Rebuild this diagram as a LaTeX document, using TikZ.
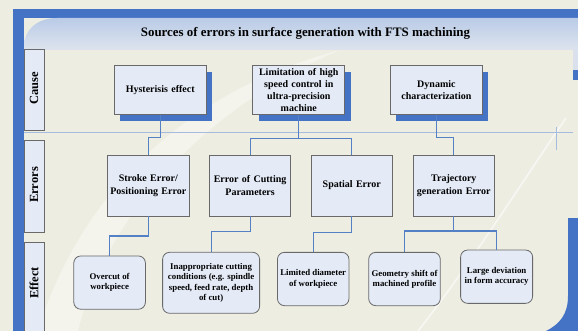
\documentclass[tikz,border=0pt]{standalone}
\usepackage{fontspec}
\setmainfont{Liberation Serif}
\usetikzlibrary{shadows}
\definecolor{frameblue}{RGB}{68,114,196}
\definecolor{cream}{RGB}{237,237,226}
\definecolor{boxfill}{RGB}{228,235,247}
\definecolor{boxline}{RGB}{105,105,105}
\definecolor{connblue}{RGB}{84,128,198}
\definecolor{rulecol}{RGB}{165,188,222}
\definecolor{headtop}{RGB}{186,203,231}
\definecolor{headbot}{RGB}{221,228,238}
\definecolor{sidestrip}{RGB}{218,225,236}
\begin{document}
\begin{tikzpicture}[x=1pt,y=-1pt,
  causebox/.style={draw=boxline, line width=0.8pt, fill=boxfill,
    minimum width=92pt, minimum height=49pt, text width=88pt, inner sep=0pt,
    align=center, font=\fontsize{10}{12}\selectfont\bfseries,
    drop shadow={shadow xshift=6pt, shadow yshift=-6pt, fill=frameblue, opacity=1}},
  errbox/.style={draw=boxline, line width=0.8pt, fill=boxfill,
    minimum width=81.5pt, minimum height=61pt, text width=80pt, inner sep=0pt,
    align=center, font=\fontsize{10}{12.3}\selectfont\bfseries},
  effbox/.style={draw=boxline, line width=0.8pt, fill=boxfill, rounded corners=7pt,
    minimum height=53.3pt, inner sep=0pt,
    align=center, font=\fontsize{8.8}{10.3}\selectfont\bfseries},
  sidebox/.style={draw=boxline, line width=0.7pt, fill=boxfill, rotate=90,
    minimum height=20pt, inner sep=0pt},
  sidetext/.style={rotate=90, inner sep=0pt, font=\fontsize{12.5}{14}\selectfont\bfseries},
  conn/.style={draw=connblue, line width=1.2pt},
  rule/.style={draw=rulecol, line width=0.9pt}]

\useasboundingbox (0,0) rectangle (578,331);
\clip (0,0) rectangle (578,331);

% page ground and panel
\fill[cream] (0,0) rectangle (578,331);

% faint light swoosh across the panel
\fill[white, opacity=0.4] (38,331) .. controls (75,210) and (170,95) .. (340,50)
  .. controls (200,110) and (105,220) .. (78,331) -- cycle;
\draw[white, opacity=0.6, line width=1.6pt] (418,331) .. controls (470,265) and (520,185) .. (566,118);

% blue frame: top band and left strip
\fill[frameblue] (13,9) rectangle (578,18);
\fill[frameblue] (13,9) rectangle (24,331);

% header band with rounded upper-left corner
\shade[top color=headtop, bottom color=headbot]
  (24,50) -- (24,47) .. controls (24,29) and (38,18) .. (57,18) -- (578,18) -- (578,50) -- cycle;

% right-hand edge pieces
\fill[sidestrip] (573,50) rectangle (578,70);
\fill[frameblue] (573,70) rectangle (578,80);
\fill[frameblue] (568,218) -- (578,218) -- (578,331) -- (546,331)
  .. controls (560,324) and (568,314) .. (568,296) -- cycle;

% row divider
\draw[rule] (24,132.3) -- (573,132.3);
\draw[rule] (556,127) -- (556,150);

% title
\node[font=\fontsize{12.9}{15}\selectfont\bfseries] (title) at (305.5,33)
  {Sources of errors in surface generation with FTS machining};

% row labels
\node[sidebox, minimum width=80.5pt] (causebox) at (34,89.8) {};
\node[sidetext] (causetxt) at (34,88.5) {Cause};
\node[sidebox, minimum width=92pt] (errbox) at (34,186) {};
\node[sidetext] (errtxt) at (34,185) {Errors};
\node[sidebox, minimum width=100pt] (effbox) at (34,292) {};
\node[sidetext] (efftxt) at (34,283) {Effect};

% causes
\node[causebox] (hys) at (160.2,90.2) {Hysterisis effect};
\node[causebox] (lim) at (298.8,90.2) {Limitation of high\\speed control in\\ultra-precision\\machine};
\node[causebox] (dyn) at (436.4,90.2) {Dynamic\\characterization};

% errors
\node[errbox] (str) at (148.3,185.5) {Stroke Error/\\Positioning Error};
\node[errbox] (cut) at (250.1,185.5) {Error of Cutting\\Parameters};
\node[errbox] (spa) at (351.8,185.5) {Spatial Error};
\node[errbox] (tra) at (453.8,185.5) {Trajectory\\generation Error};

% effects
\node[effbox, minimum width=71.6pt] (ove) at (109.6,282.6) {Overcut of\\workpiece};
\node[effbox, minimum width=97pt, minimum height=61pt] (ina) at (211.1,282.8)
  {Inappropriate cutting\\conditions (e.g. spindle\\speed, feed rate, depth\\of cut)};
\node[effbox, minimum width=71.5pt] (dia) at (313.2,279) {Limited diameter\\of workpiece};
\node[effbox, minimum width=71.6pt] (geo) at (404.5,279) {Geometry shift of\\machined profile};
\node[effbox, minimum width=72pt] (lar) at (496.6,276.7) {Large deviation\\in form accuracy};

% cause -> error connectors
\draw[conn] (hys.south) -- (hys.south |- 0,137.5) -| (str.north);
\draw[conn] (lim.south) -- (lim.south |- 0,138.5);
\draw[conn] (cut.north) |- (spa.north |- 0,138.5) -- (spa.north);
\draw[conn] (dyn.south) -- (dyn.south |- 0,137.5) -| (tra.north);

% error -> effect connectors
\draw[conn] (str.south) -- (str.south |- 0,236) -| (ove.north);
\draw[conn] (cut.south) -- (cut.south |- 0,231.5) -| (ina.north);
\draw[conn] (spa.south) -- (spa.south |- 0,232.5) -| (dia.north);
\draw[conn] (tra.south) -- (tra.south |- 0,231);
\draw[conn] (geo.north) |- (lar.north |- 0,231) -- (lar.north);

\end{tikzpicture}
\end{document}
